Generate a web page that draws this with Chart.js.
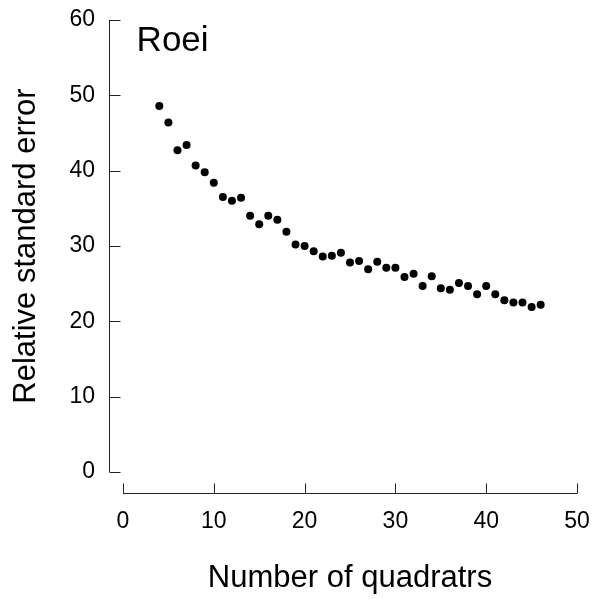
<!DOCTYPE html>
<html>
<head>
<meta charset="utf-8">
<script src="https://cdn.jsdelivr.net/npm/chart.js@4/dist/chart.umd.min.js"></script>
<style>
  html, body { margin: 0; padding: 0; background: #fff; }
  #wrap { width: 594px; height: 599px; }
</style>
</head>
<body>
<div id="wrap"><canvas id="chart" width="594" height="599"></canvas></div>
<script>
// --- data ---
const quadrats = [4, 5, 6, 7, 8, 9, 10, 11, 12, 13, 14, 15, 16, 17, 18, 19, 20, 21, 22, 23, 24, 25,
  26, 27, 28, 29, 30, 31, 32, 33, 34, 35, 36, 37, 38, 39, 40, 41, 42, 43, 44, 45, 46];
const relError = [48.6, 46.4, 42.7, 43.4, 40.7, 39.8, 38.4, 36.5, 36.0, 36.4, 34.0, 32.9, 34.0, 33.5,
  31.9, 30.2, 30.0, 29.3, 28.6, 28.7, 29.1, 27.8, 28.0, 26.9, 27.9, 27.1, 27.1, 25.9, 26.3, 24.7,
  26.0, 24.4, 24.2, 25.1, 24.7, 23.6, 24.7, 23.6, 22.8, 22.5, 22.5, 21.9, 22.2];
const xTicks = [0, 10, 20, 30, 40, 50];
const yTicks = [0, 10, 20, 30, 40, 50, 60];
const siteLabel = 'Roei';

const FONT = "'Liberation Sans', Arial, Helvetica, sans-serif";

// R-style detached axes, ticks pointing in toward the plot
const detachedAxes = {
  id: 'detachedAxes',
  afterDraw(chart) {
    const { ctx, scales: { x, y } } = chart;
    ctx.save();
    ctx.strokeStyle = '#222';
    ctx.lineWidth = 1;

    // x axis
    const ay = Math.round(y.getPixelForValue(0) + 21) + 0.5;
    ctx.beginPath();
    ctx.moveTo(x.getPixelForValue(xTicks[0]), ay);
    ctx.lineTo(x.getPixelForValue(xTicks[xTicks.length - 1]), ay);
    xTicks.forEach(v => {
      const px = Math.round(x.getPixelForValue(v)) + 0.5;
      ctx.moveTo(px, ay);
      ctx.lineTo(px, ay - 10);
    });
    ctx.stroke();

    // y axis
    const ax = Math.round(x.getPixelForValue(0) - 14) + 0.5;
    ctx.beginPath();
    ctx.moveTo(ax, y.getPixelForValue(yTicks[0]));
    ctx.lineTo(ax, y.getPixelForValue(yTicks[yTicks.length - 1]));
    yTicks.forEach(v => {
      const py = Math.round(y.getPixelForValue(v)) + 0.5;
      ctx.moveTo(ax, py);
      ctx.lineTo(ax + 11, py);
    });
    ctx.stroke();

    // panel label
    ctx.fillStyle = '#000';
    ctx.font = '35px ' + FONT;
    ctx.textAlign = 'left';
    ctx.textBaseline = 'alphabetic';
    ctx.fillText(siteLabel, x.getPixelForValue(1.5), y.getPixelForValue(55.9));
    ctx.restore();
  }
};

new Chart(document.getElementById('chart'), {
  type: 'scatter',
  data: {
    datasets: [{
      data: quadrats.map((q, i) => ({ x: q, y: relError[i] })),
      backgroundColor: '#000',
      borderWidth: 0,
      pointRadius: 4,
      pointHoverRadius: 4
    }]
  },
  options: {
    responsive: false,
    animation: false,
    layout: { padding: { top: 20, right: 17, left: 0, bottom: 0 } },
    plugins: { legend: { display: false }, tooltip: { enabled: false } },
    scales: {
      x: {
        type: 'linear', min: 0, max: 50,
        afterFit: s => { s.height = 127; s.paddingLeft = 0; s.paddingRight = 0; },
        afterBuildTicks: s => { s.ticks = xTicks.map(v => ({ value: v })); },
        grid: { display: false, drawTicks: false },
        border: { display: false },
        ticks: { color: '#000', padding: 36, font: { family: FONT, size: 23 } },
        title: {
          display: true, text: 'Number of quadratrs', color: '#000',
          font: { family: FONT, size: 31 }, padding: { top: 0, bottom: 2 }
        }
      },
      y: {
        type: 'linear', min: 0, max: 60,
        afterFit: s => { s.width = 123; s.paddingTop = 0; s.paddingBottom = 0; },
        afterBuildTicks: s => { s.ticks = yTicks.map(v => ({ value: v })); },
        grid: { display: false, drawTicks: false },
        border: { display: false },
        ticks: { color: '#000', padding: 28, font: { family: FONT, size: 23 } },
        title: {
          display: true, text: 'Relative standard error', color: '#000',
          font: { family: FONT, size: 31 }, padding: { top: 8, bottom: 0 }
        }
      }
    }
  },
  plugins: [detachedAxes]
});
</script>
</body>
</html>
